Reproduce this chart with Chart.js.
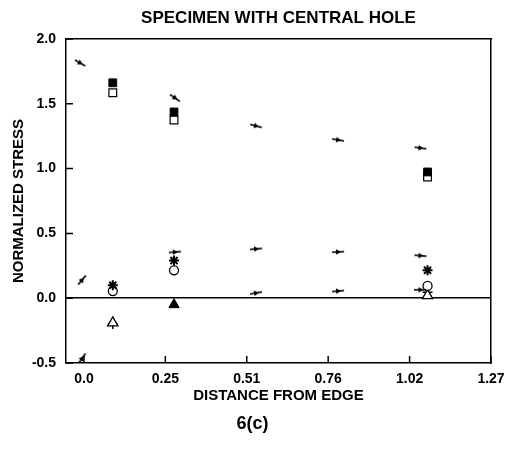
<!DOCTYPE html>
<html>
<head>
<meta charset="utf-8">
<script src="https://cdn.jsdelivr.net/npm/chart.js@4.4.1/dist/chart.umd.min.js"></script>
<style>
  body { margin: 0; background: #fff; }
</style>
</head>
<body>
<canvas id="stressChart" width="505" height="451"></canvas>
<script>
// axis ticks (distance in the same units as the labels, equally spaced)
const xTickValues = [0, 0.254, 0.508, 0.762, 1.016, 1.27];
const xTickLabels = ['0.0', '0.25', '0.51', '0.76', '1.02', '1.27'];
const yTickValues = [-0.5, 0, 0.5, 1.0, 1.5, 2.0];

const colX = [0.09, 0.281, 1.072];
const filledSquareY = [1.662, 1.437, 0.974];
const openSquareY = [1.585, 1.375, 0.935];
const asteriskY = [0.10, 0.29, 0.215];
const openCircleY = [0.055, 0.215, 0.095];
const openTriangleX = [0.09, 1.072];
const openTriangleY = [-0.19, 0.02];
const crossX = [0.09, 1.072];
const crossY = [-0.2, 0.045];
const filledTriangleX = [0.281];
const filledTriangleY = [-0.05];

// analysis values (small arrows)
const arrowX = [-0.012, 0.284, 0.537, 0.793, 1.05, -0.006, 0.284, 0.537, 0.793, 1.05, 0.537, 0.793, 1.05, -0.006];
const arrowY = [1.815, 1.545, 1.329, 1.221, 1.159, 0.14, 0.356, 0.38, 0.357, 0.328, 0.04, 0.055, 0.065, -0.465];
const arrowTilt = [30, 35, 15, 10, 8, -50, -5, -5, -3, 5, -10, -5, 0, -55];

const pts = (xs, ys) => xs.map((x, i) => ({ x: x, y: ys[i] }));

const FONT = '"Liberation Sans", Arial, Helvetica, sans-serif';
const X_MIN = -0.056;
const X_MAX = 1.27;

// little arrow glyph used as a point style
function makeArrow() {
  const c = document.createElement('canvas');
  c.width = 12;
  c.height = 6;
  const g = c.getContext('2d');
  g.strokeStyle = '#000';
  g.fillStyle = '#000';
  g.lineWidth = 1.6;
  g.beginPath();
  g.moveTo(0, 3);
  g.lineTo(12, 3);
  g.stroke();
  g.beginPath();
  g.moveTo(9, 3);
  g.lineTo(4, 0.3);
  g.lineTo(4, 5.7);
  g.closePath();
  g.fill();
  return c;
}
const arrowImg = makeArrow();

// tick marks pointing into the plot, like the original
const inwardTicks = {
  id: 'inwardTicks',
  afterDatasetsDraw(chart) {
    const ctx = chart.ctx;
    const area = chart.chartArea;
    const xs = chart.scales.x;
    const ys = chart.scales.y;
    ctx.save();
    ctx.strokeStyle = '#000';
    ctx.lineWidth = 1.5;
    ctx.beginPath();
    ys.ticks.forEach(t => {
      const py = ys.getPixelForValue(t.value);
      ctx.moveTo(area.left, py);
      ctx.lineTo(area.left + 7, py);
    });
    xs.ticks.forEach(t => {
      const px = xs.getPixelForValue(t.value);
      ctx.moveTo(px, area.bottom);
      ctx.lineTo(px, area.bottom - 7);
    });
    ctx.stroke();
    ctx.restore();
  }
};

const noPad = s => { s.paddingLeft = 0; s.paddingRight = 0; s.paddingTop = 0; s.paddingBottom = 0; };

new Chart(document.getElementById('stressChart'), {
  type: 'scatter',
  data: {
    datasets: [
      {
        data: pts(arrowX, arrowY),
        pointStyle: arrowImg,
        rotation: arrowTilt,
        pointRadius: 6,
        borderColor: '#000'
      },
      {
        data: pts(colX, filledSquareY),
        pointStyle: 'rect',
        pointRadius: 5.5,
        borderWidth: 1,
        borderColor: '#000',
        backgroundColor: '#000'
      },
      {
        data: pts(colX, openSquareY),
        pointStyle: 'rect',
        pointRadius: 5.5,
        borderWidth: 1.2,
        borderColor: '#000',
        backgroundColor: '#fff'
      },
      {
        data: pts(colX, asteriskY),
        pointStyle: 'star',
        pointRadius: 5,
        borderWidth: 2,
        borderColor: '#000'
      },
      {
        data: pts(colX, openCircleY),
        pointStyle: 'circle',
        pointRadius: 4.5,
        borderWidth: 1.3,
        borderColor: '#000',
        backgroundColor: '#fff'
      },
      {
        data: pts(openTriangleX, openTriangleY),
        pointStyle: 'triangle',
        pointRadius: 6,
        borderWidth: 1.3,
        borderColor: '#000',
        backgroundColor: '#fff'
      },
      {
        data: pts(crossX, crossY),
        pointStyle: 'cross',
        pointRadius: 5,
        borderWidth: 1.5,
        borderColor: '#000'
      },
      {
        data: pts(filledTriangleX, filledTriangleY),
        pointStyle: 'triangle',
        pointRadius: 6,
        borderWidth: 1,
        borderColor: '#000',
        backgroundColor: '#000'
      }
    ]
  },
  options: {
    responsive: false,
    animation: false,
    layout: { padding: 0 },
    scales: {
      x: {
        type: 'linear',
        position: 'bottom',
        min: X_MIN,
        max: X_MAX,
        afterBuildTicks: s => { s.ticks = xTickValues.map(v => ({ value: v })); },
        afterFit: s => { s.height = 50.4; noPad(s); },
        ticks: {
          autoSkip: false,
          maxRotation: 0,
          padding: 8,
          color: '#000',
          font: { family: FONT, size: 14, weight: 'bold' },
          callback: v => xTickLabels[xTickValues.indexOf(v)]
        },
        grid: { display: false, drawTicks: false },
        border: { color: '#000', width: 1.5 },
        title: {
          display: true,
          text: 'DISTANCE FROM EDGE',
          color: '#000',
          font: { family: FONT, size: 15, weight: 'bold' },
          padding: { top: 0, bottom: 9 }
        }
      },
      x2: {
        type: 'linear',
        position: 'top',
        min: X_MIN,
        max: X_MAX,
        afterFit: s => { s.height = 39; noPad(s); },
        ticks: { display: false },
        grid: { display: false, drawTicks: false },
        border: { color: '#000', width: 1.5 },
        title: {
          display: true,
          text: 'SPECIMEN WITH CENTRAL HOLE',
          color: '#000',
          font: { family: FONT, size: 17, weight: 'bold' },
          padding: { top: 8, bottom: 0 }
        }
      },
      y: {
        type: 'linear',
        position: 'left',
        min: -0.5,
        max: 2.0,
        afterBuildTicks: s => { s.ticks = yTickValues.map(v => ({ value: v })); },
        afterFit: s => { s.width = 66; noPad(s); },
        ticks: {
          padding: 10,
          color: '#000',
          font: { family: FONT, size: 14, weight: 'bold' },
          callback: v => v.toFixed(1)
        },
        grid: {
          drawTicks: false,
          lineWidth: 1.5,
          color: c => (c.tick && c.tick.value === 0 ? '#000' : 'rgba(0,0,0,0)')
        },
        border: { color: '#000', width: 1.5 },
        title: {
          display: true,
          text: 'NORMALIZED STRESS',
          color: '#000',
          font: { family: FONT, size: 15, weight: 'bold' },
          padding: { top: 10, bottom: 0 }
        }
      },
      y2: {
        type: 'linear',
        position: 'right',
        min: -0.5,
        max: 2.0,
        afterFit: s => { s.width = 14; noPad(s); },
        ticks: { display: false },
        grid: { display: false, drawTicks: false },
        border: { color: '#000', width: 1.5 }
      }
    },
    plugins: {
      legend: { display: false },
      tooltip: { enabled: false },
      subtitle: {
        display: true,
        position: 'bottom',
        text: '6(c)',
        color: '#000',
        font: { family: FONT, size: 18, weight: 'bold' },
        padding: { top: 0, bottom: 16 }
      }
    }
  },
  plugins: [inwardTicks]
});
</script>
</body>
</html>
